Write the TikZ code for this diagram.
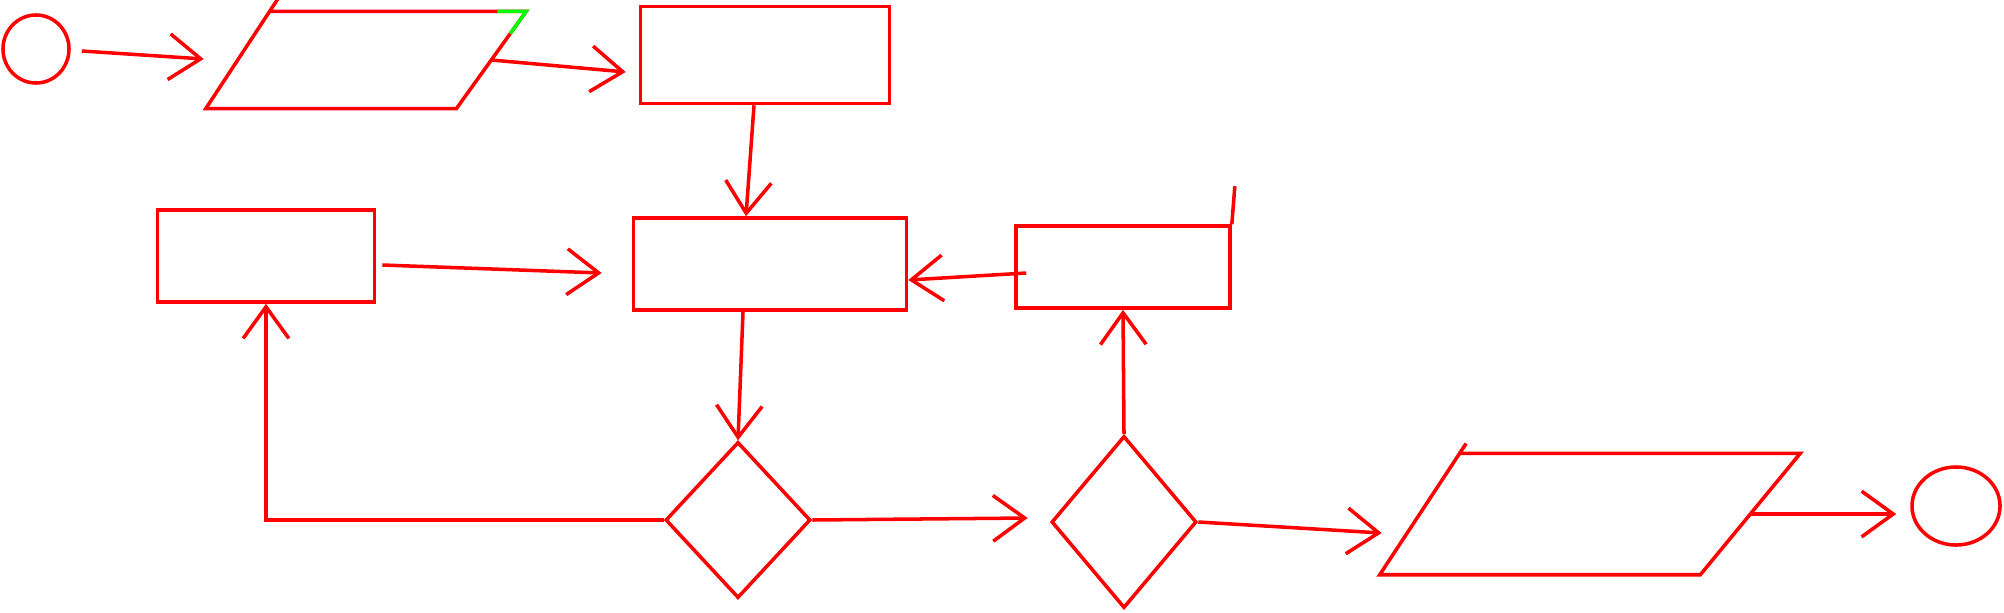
\documentclass[tikz,border=0pt]{standalone}
\usetikzlibrary{shapes.geometric,arrows.meta,calc}
\begin{document}
\begin{tikzpicture}[x=0.01cm,y=-0.01cm,
  shp/.style={draw=red, line width=1pt, inner sep=0pt},
  flow/.style={draw=red, line width=1pt, -{Straight Barb[length=9pt,width=13pt]}},
  box/.style={shp, rectangle},
  frame/.style={rectangle, inner sep=0pt},
  dec/.style={shp, diamond},
  term/.style={shp, ellipse}]
\useasboundingbox (0,0) rectangle (2004,612);
% shapes
\node[term, minimum width=6.6mm, minimum height=6.8mm] (s) at (36,49) {};
\node[frame, minimum width=31.9mm, minimum height=9.6mm] (p1) at (366,60) {};
\coordinate (p1bl) at (p1.south west);
\coordinate (p1tl) at ($(p1.north west)+(64,0)$);
\coordinate (p1tr) at (p1.north east);
\coordinate (p1br) at ($(p1.south east)+(-70,0)$);
\draw[shp] (p1bl) -- (p1tl) -- (p1tr) -- (p1br) -- cycle;
\draw[shp] (p1tl) -- ($(p1tl)!-0.15!(p1bl)$);
\coordinate (p1w) at ($(p1.west)+(32,0)$);
\coordinate (p1e) at ($(p1.east)+(-35,0)$);
\node[box, minimum width=24.9mm, minimum height=9.7mm] (a) at (765,55) {};
\node[box, minimum width=21.7mm, minimum height=9.2mm] (c) at (266,256) {};
\node[box, minimum width=27.3mm, minimum height=9.2mm] (b) at (770,264) {};
\node[box, minimum width=21.4mm, minimum height=8.2mm] (d) at (1123,267) {};
\node[dec, minimum width=14.5mm, minimum height=15.6mm] (q1) at (738,520) {};
\node[dec, minimum width=14.5mm, minimum height=17.2mm] (q2) at (1124,522) {};
\node[frame, minimum width=41.9mm, minimum height=12mm] (p2) at (1590,514) {};
\coordinate (p2bl) at (p2.south west);
\coordinate (p2tl) at ($(p2.north west)+(80,0)$);
\coordinate (p2tr) at (p2.north east);
\coordinate (p2br) at ($(p2.south east)+(-100,0)$);
\draw[shp] (p2bl) -- (p2tl) -- (p2tr) -- (p2br) -- cycle;
\draw[shp] (p2tl) -- ($(p2tl)!-0.08!(p2bl)$);
\coordinate (p2w) at ($(p2.west)+(40,0)$);
\coordinate (p2e) at ($(p2.east)+(-50,0)$);
\node[term, minimum width=8.8mm, minimum height=7.8mm] (e) at (1956,506) {};
% extra strokes
\draw[red, line width=1pt] (d.north east) -- ++(3,-38);
\draw[green, line width=1pt] ($(p1tr)+(-29,0)$) -- (p1tr) -- ($(p1tr)!0.23!(p1br)$);
% connectors
\draw[flow] ($(s.east)+(11,2)$) -- ($(p1w)+(-34,-1)$);
\draw[flow] (p1e) -- ($(a.west)+(-13,17)$);
\draw[flow] ($(a.south)+(-11,0)$) -- ($(b.north)+(-24,0)$);
\draw[flow] ($(c.east)+(6,9)$) -- ($(b.west)+(-30,9)$);
\draw[flow] ($(d.west)+(12,6)$) -- ($(b.east)+(0,16)$);
\draw[flow] ($(b.south)+(-27,0)$) -- (q1.north);
\draw[flow] (q1.west) -| (c.south);
\draw[flow] (q1.east) -- ($(q2.west)+(-22,-4)$);
\draw[flow] (q2.north) -- (d.south);
\draw[flow] (q2.east) -- ($(p2w)+(-38,19)$);
\draw[flow] (p2e) -- ($(e.west)+(-14,8)$);
\end{tikzpicture}
\end{document}
